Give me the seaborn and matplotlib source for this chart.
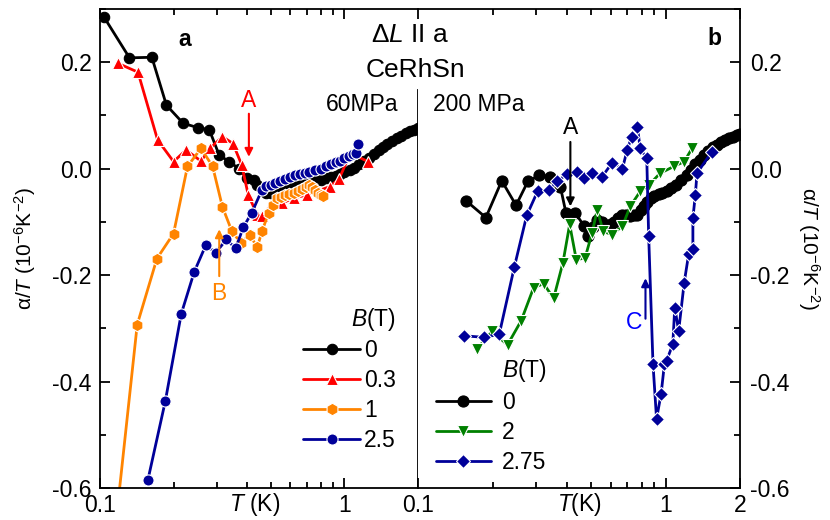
import numpy as np
import pandas as pd
import matplotlib
matplotlib.use('Agg')
from matplotlib import pyplot as plt
import seaborn as sns

# panel a, 60 MPa
t60_b0 = [0.104, 0.132, 0.163, 0.187, 0.219, 0.251, 0.280, 0.307, 0.337, 0.371, 0.398, 0.426,
          0.44, 0.46, 0.48, 0.50, 0.52, 0.545, 0.57, 0.60, 0.63, 0.66, 0.69, 0.72, 0.76, 0.80,
          0.84, 0.88, 0.92, 0.96, 1.00, 1.05, 1.10, 1.15, 1.20, 1.26, 1.32, 1.38, 1.44, 1.50,
          1.57, 1.64, 1.71, 1.78, 1.85, 1.92, 2.0]
a60_b0 = [0.284, 0.208, 0.209, 0.119, 0.085, 0.077, 0.073, 0.026, 0.013, 0.000, -0.018, -0.021,
          -0.030, -0.038, -0.045, -0.045, -0.043, -0.040, -0.037, -0.034, -0.032, -0.030, -0.028,
          -0.026, -0.023, -0.021, -0.018, -0.016, -0.014, -0.010, -0.006, -0.002, 0.002, 0.008,
          0.014, 0.020, 0.027, 0.034, 0.040, 0.046, 0.052, 0.058, 0.062, 0.066, 0.070, 0.073,
          0.076]

t60_b03 = [0.118, 0.143, 0.172, 0.200, 0.225, 0.259, 0.282, 0.317, 0.350, 0.380, 0.404, 0.440,
           0.460, 0.49, 0.556, 0.62, 0.70, 0.87, 0.95, 1.06, 1.25]
a60_b03 = [0.198, 0.181, 0.054, 0.013, 0.035, 0.014, 0.038, 0.060, 0.047, 0.007, -0.049, -0.087,
           -0.090, -0.075, -0.065, -0.055, -0.050, -0.034, -0.020, 0.029, 0.013]

t60_b1 = [0.108, 0.142, 0.171, 0.200, 0.228, 0.259, 0.289, 0.317, 0.346, 0.377, 0.41, 0.44,
          0.46, 0.49, 0.51, 0.53, 0.55, 0.57, 0.595, 0.62, 0.645, 0.67, 0.695, 0.72, 0.74,
          0.76, 0.78, 0.80, 0.82]
a60_b1 = [-0.80, -0.293, -0.169, -0.122, 0.004, 0.038, 0.004, -0.072, -0.117, -0.140, -0.124,
          -0.148, -0.118, -0.083, -0.068, -0.056, -0.054, -0.050, -0.048, -0.045, -0.042,
          -0.038, -0.034, -0.030, -0.034, -0.040, -0.045, -0.050, -0.052]

t60_b25 = [0.157, 0.185, 0.215, 0.243, 0.271, 0.298, 0.329, 0.359, 0.386, 0.418, 0.46, 0.48,
           0.50, 0.52, 0.545, 0.57, 0.60, 0.63, 0.66, 0.69, 0.72, 0.76, 0.80, 0.84, 0.88, 0.92,
           0.96, 1.00, 1.04, 1.08, 1.12, 1.14]
a60_b25 = [-0.585, -0.437, -0.273, -0.194, -0.144, -0.158, -0.133, -0.150, -0.110, -0.083,
           -0.040, -0.033, -0.030, -0.027, -0.024, -0.020, -0.016, -0.012, -0.010, -0.008,
           -0.006, -0.003, 0.000, 0.005, 0.008, 0.012, 0.015, 0.019, 0.023, 0.028, 0.030, 0.047]

# panel b, 200 MPa
t200_b0 = [0.156, 0.188, 0.218, 0.249, 0.278, 0.309, 0.340, 0.376, 0.396, 0.432, 0.467, 0.488,
           0.51, 0.53, 0.555, 0.58, 0.60, 0.62, 0.645, 0.67, 0.695, 0.72, 0.745, 0.77, 0.795,
           0.82, 0.845, 0.87, 0.90, 0.94, 0.97, 1.01, 1.05, 1.10, 1.16, 1.22, 1.27, 1.32, 1.38,
           1.43, 1.49, 1.55, 1.61, 1.67, 1.74, 1.80, 1.88, 1.95, 2.0]
a200_b0 = [-0.060, -0.092, -0.023, -0.069, -0.024, -0.013, -0.015, -0.034, -0.083, -0.083,
           -0.107, -0.127, -0.110, -0.096, -0.100, -0.108, -0.104, -0.100, -0.092, -0.087,
           -0.088, -0.090, -0.088, -0.087, -0.078, -0.070, -0.062, -0.055, -0.052, -0.048,
           -0.046, -0.043, -0.037, -0.030, -0.021, -0.012, -0.002, 0.008, 0.017, 0.026, 0.033,
           0.040, 0.045, 0.050, 0.054, 0.057, 0.060, 0.063, 0.065]

t200_b2 = [0.173, 0.199, 0.230, 0.261, 0.293, 0.322, 0.353, 0.385, 0.410, 0.436, 0.473, 0.505,
           0.530, 0.560, 0.607, 0.67, 0.72, 0.79, 0.86, 0.95, 1.08, 1.19, 1.28]
a200_b2 = [-0.339, -0.306, -0.331, -0.286, -0.224, -0.216, -0.244, -0.177, -0.105, -0.171,
           -0.168, -0.121, -0.077, -0.118, -0.124, -0.108, -0.071, -0.043, -0.030, -0.009, 0.004,
           0.013, 0.038]

t200_b275 = [0.153, 0.185, 0.213, 0.245, 0.275, 0.304, 0.337, 0.366, 0.40, 0.44, 0.467, 0.505,
             0.555, 0.607, 0.67, 0.70, 0.73, 0.77, 0.79, 0.84, 0.855, 0.89, 0.92, 0.96, 0.99,
             1.01, 1.07, 1.09, 1.13, 1.19, 1.24, 1.29, 1.29, 1.32, 1.34, 1.54]
a200_b275 = [-0.314, -0.317, -0.311, -0.185, -0.088, -0.043, -0.040, -0.023, -0.011, -0.006,
             -0.018, -0.009, -0.015, 0.010, 0.000, 0.035, 0.060, 0.078, 0.038, 0.019, -0.127,
             -0.367, -0.470, -0.423, -0.367, -0.361, -0.330, -0.261, -0.305, -0.214, -0.161,
             -0.152, -0.093, -0.049, -0.009, 0.032]

yticks = [-0.6, -0.4, -0.2, 0.0, 0.2]
ytick_labels = ['-0.6', '-0.4', '-0.2', '0.0', '0.2']
yminor = [-0.5, -0.3, -0.1, 0.1, 0.3]
xminor = [0.2, 0.3, 0.4, 0.5, 0.6, 0.7, 0.8, 0.9]

sns.set_style('ticks', {'axes.edgecolor': 'black', 'text.color': 'black',
                        'xtick.color': 'black', 'ytick.color': 'black',
                        'axes.labelcolor': 'black'})
plt.rcParams['font.family'] = ['Liberation Sans', 'DejaVu Sans']
plt.rcParams['mathtext.fontset'] = 'custom'
plt.rcParams['mathtext.rm'] = 'Liberation Sans'
plt.rcParams['mathtext.it'] = 'Liberation Sans:italic'
plt.rcParams['mathtext.bf'] = 'Liberation Sans:bold'
plt.rcParams['axes.unicode_minus'] = False

FS = 16.5


def draw(ax, t, a, color, marker, ms, label, edge='white'):
    df = pd.DataFrame({'T': t, 'a': a})
    sns.lineplot(data=df, x='T', y='a', ax=ax, sort=False, estimator=None,
                 color=color, marker=marker, markersize=ms, markeredgecolor=edge,
                 markeredgewidth=0.8, linewidth=2.0, label=label)


def style_axis(ax):
    ax.set_xscale('log')
    ax.set_xlim(0.1, 2)
    ax.set_ylim(-0.6, 0.3)
    ax.set_xticks(xminor, minor=True)
    ax.set_xticklabels([], minor=True)
    ax.set_yticks(yticks)
    ax.set_yticklabels(ytick_labels)
    ax.set_yticks(yminor, minor=True)
    ax.tick_params(which='both', direction='in', width=1.3, labelsize=FS, top=True)
    ax.tick_params(which='major', length=7)
    ax.tick_params(which='minor', length=4)
    ax.tick_params(axis='x', pad=4)
    for s in ax.spines.values():
        s.set_linewidth(1.3)


fig = plt.figure(figsize=(8.3, 5.2), dpi=100)
ax1 = fig.add_axes([0.1205, 0.0615, 0.383, 0.9215])
ax2 = fig.add_axes([0.5036, 0.0615, 0.388, 0.9215])

draw(ax1, t60_b0, a60_b0, 'black', 'o', 7.5, '0', edge='black')
draw(ax1, t60_b03, a60_b03, '#ff0000', '^', 9, '0.3')
draw(ax1, t60_b1, a60_b1, '#ff8400', 'h', 9, '1')
draw(ax1, t60_b25, a60_b25, '#000099', 'o', 8, '2.5')

draw(ax2, t200_b0, a200_b0, 'black', 'o', 8, '0', edge='black')
draw(ax2, t200_b2, a200_b2, '#008000', 'v', 9, '2')
draw(ax2, t200_b275, a200_b275, '#000099', 'D', 7.5, '2.75')

style_axis(ax1)
style_axis(ax2)

ax1.set_xticks([0.1, 1])
ax1.set_xticklabels(['0.1', '1'])
ax1.tick_params(which='both', right=False, axis='y', pad=6)
ax1.spines['right'].set_bounds(-0.6, 0.148)

ax2.set_xticks([0.1, 1, 2])
ax2.set_xticklabels(['0.1', '1', '2'])
ax2.spines['left'].set_visible(False)
ax2.yaxis.tick_right()
ax2.tick_params(which='both', axis='y', left=False, right=True, labelleft=False,
                labelright=True, pad=7)

ax1.set_xlabel('$\\it{T}$ (K)', fontsize=FS)
ax1.xaxis.set_label_coords(0.487, -0.006)
ax2.set_xlabel('$\\it{T}$(K)', fontsize=FS)
ax2.xaxis.set_label_coords(0.503, -0.006)

ylab = 'α/$\\it{T}$ (10$^{-6}$K$^{-2}$)'
ax1.set_ylabel(ylab, fontsize=15)
ax1.yaxis.set_label_coords(-0.195, 0.5)
ax2.yaxis.set_label_position('right')
ax2.set_ylabel(ylab, fontsize=15, rotation=270, va='bottom')
ax2.yaxis.set_label_coords(1.175, 0.5)

leg1 = ax1.legend(title='$\\it{B}$(T)', loc='lower right', bbox_to_anchor=(0.93, 0.075),
                  frameon=False, fontsize=FS, title_fontsize=FS, handlelength=2.5,
                  labelspacing=0.3, handletextpad=0.15, borderaxespad=0, borderpad=0,
                  alignment='right')
leg2 = ax2.legend(title='$\\it{B}$(T)', loc='lower left', bbox_to_anchor=(0.055, 0.03),
                  frameon=False, fontsize=FS, title_fontsize=FS, handlelength=2.4,
                  labelspacing=0.3, handletextpad=0.5, borderaxespad=0, borderpad=0,
                  alignment='right')

ax1.text(0.267, 0.935, 'a', transform=ax1.transAxes, fontsize=FS, fontweight='bold',
         ha='center', va='center')
ax2.text(0.922, 0.939, 'b', transform=ax2.transAxes, fontsize=FS, fontweight='bold',
         ha='center', va='center')
ax1.text(0.937, 0.80, '60MPa', transform=ax1.transAxes, fontsize=FS, ha='right', va='center')
ax2.text(0.047, 0.80, '200 MPa', transform=ax2.transAxes, fontsize=FS, ha='left', va='center')
fig.text(0.494, 0.933, 'Δ$\\it{L}$ II a', fontsize=19, ha='center', va='center')
fig.text(0.501, 0.865, 'CeRhSn', fontsize=19, ha='center', va='center')

arrow = dict(arrowstyle='-|>', lw=1.5, mutation_scale=12, shrinkA=0, shrinkB=0)
ax1.annotate('', xy=(0.4067, 0.022), xytext=(0.4067, 0.103),
             arrowprops=dict(arrow, color='#ff0000'))
ax1.text(0.4067, 0.127, 'A', color='#ff0000', fontsize=FS, ha='center', va='center')
ax1.annotate('', xy=(0.3076, -0.114), xytext=(0.3076, -0.202),
             arrowprops=dict(arrow, color='#ff8400'))
ax1.text(0.3076, -0.234, 'B', color='#ff8400', fontsize=FS, ha='center', va='center')
ax2.annotate('', xy=(0.4127, -0.071), xytext=(0.4127, 0.05),
             arrowprops=dict(arrow, color='black'))
ax2.text(0.4127, 0.077, 'A', color='black', fontsize=FS, ha='center', va='center')
ax2.annotate('', xy=(0.83, -0.206), xytext=(0.83, -0.282),
             arrowprops=dict(arrow, color='#000099'))
ax2.text(0.743, -0.29, 'C', color='#0000ff', fontsize=FS, ha='center', va='center')

fig.savefig('out.png', dpi=100)
